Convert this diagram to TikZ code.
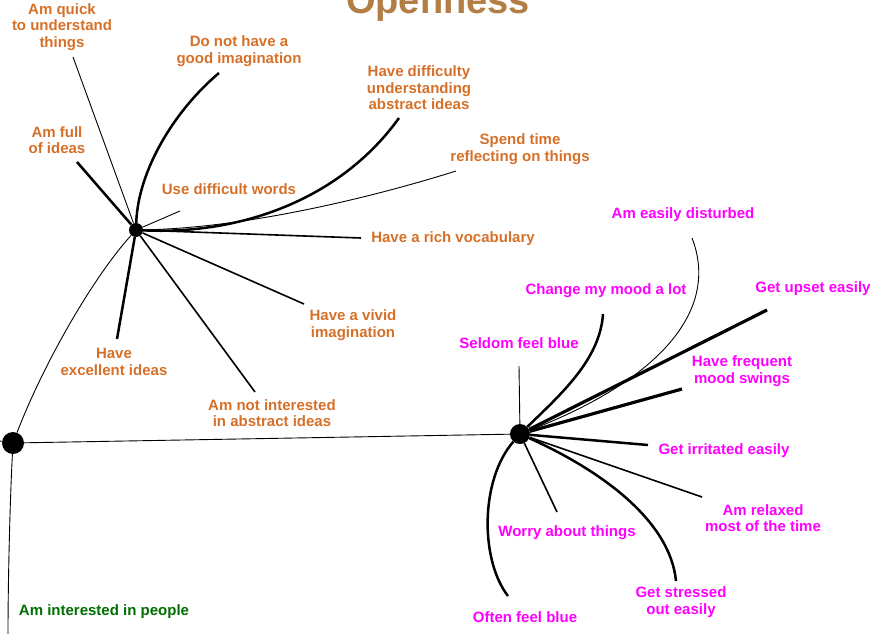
\documentclass[tikz,border=0pt]{standalone}
\usepackage{fontspec}
\setmainfont{Liberation Sans}
\usepackage{xcolor}
\definecolor{opnorange}{RGB}{214,112,40}
\definecolor{titlebrown}{RGB}{178,126,70}
\definecolor{neumagenta}{RGB}{255,0,255}
\definecolor{extgreen}{RGB}{0,110,0}
\newcommand{\hub}[2]{ node[circle, fill=black, inner sep=0pt, minimum size=#2, name={#1}] {}}
\tikzset{opn/.style={text=opnorange, font=\bfseries\fontsize{15}{16.5}\selectfont, align=center, inner sep=0pt}}
\tikzset{neu/.style={text=neumagenta, font=\bfseries\fontsize{15}{16.5}\selectfont, align=center, inner sep=0pt}}
\tikzset{thinbr/.style={line width=.9pt}}
\tikzset{medbr/.style={line width=1.6pt}}
\tikzset{thickbr/.style={line width=2.5pt}}
\tikzset{heavybr/.style={line width=3.2pt}}

\begin{document}
\begin{tikzpicture}[x=1pt, y=-1pt]
  \useasboundingbox (0,0) rectangle (885,634);
  \clip (0,0) rectangle (885,634);

  \draw [] (13, 443) \hub{root}{22pt};
  \draw [] (136, 230) \hub{opn}{14pt};
  \draw [] (520, 434) \hub{neu}{20pt};

  \node [anchor=base, text=titlebrown, font=\bfseries\fontsize{38}{40}\selectfont] (title) at (438,14) {Openness};

  % openness items
  \node [opn] (quick) at (62, 27) {Am quick\\to understand\\things};
  \node [opn] (noimag) at (239, 51) {Do not have a\\good imagination};
  \node [opn] (full) at (57, 140) {Am full\\of ideas};
  \node [opn] (diffwords) at (229, 189) {Use difficult words};
  \node [opn] (abstract) at (419, 88) {Have difficulty\\understanding\\abstract ideas};
  \node [opn] (reflect) at (520, 149) {Spend time\\reflecting on things};
  \node [opn] (vocab) at (453, 239) {Have a rich vocabulary};
  \node [opn] (vivid) at (353, 325) {Have a vivid\\imagination};
  \node [opn] (notint) at (272, 413) {Am not interested\\in abstract ideas};
  \node [opn] (excel) at (114, 362) {Have\\excellent ideas};

  % neuroticism items
  \node [neu] (seldom) at (519, 343) {Seldom feel blue};
  \node [neu] (mood) at (606, 291) {Change my mood a lot};
  \node [neu] (disturb) at (683, 215) {Am easily disturbed};
  \node [neu] (upset) at (813, 289) {Get upset easily};
  \node [neu] (swings) at (742, 371) {Have frequent\\mood swings};
  \node [neu] (irrit) at (724, 451) {Get irritated easily};
  \node [neu] (relax) at (763, 518) {Am relaxed\\most of the time};
  \node [neu] (worry) at (567, 533) {Worry about things};
  \node [neu] (stress) at (681, 602) {Get stressed\\out easily};
  \node [neu] (often) at (525, 617) {Often feel blue};

  \node [text=extgreen, font=\bfseries\fontsize{15}{16.5}\selectfont, inner sep=0pt] (people) at (104, 612) {Am interested in people};

  % line ends next to the labels
  \coordinate (quickend) at (73, 57);
  \coordinate (noimagend) at (219, 73);
  \coordinate (fullend) at (77, 162);
  \coordinate (diffend) at (180, 211);
  \coordinate (abstractend) at (399, 118);
  \coordinate (reflectend) at (456, 171);
  \coordinate (vocabend) at (361, 238);
  \coordinate (vividend) at (304, 304);
  \coordinate (notintend) at (255, 392);
  \coordinate (excelend) at (117, 339);

  \coordinate (seldomend) at (519, 366);
  \coordinate (moodend) at (603, 314);
  \coordinate (disturbend) at (692, 238);
  \coordinate (upsetend) at (767, 310);
  \coordinate (swingsend) at (682, 389);
  \coordinate (irritend) at (648, 445);
  \coordinate (relaxend) at (702, 497);
  \coordinate (worryend) at (557, 512);
  \coordinate (stressend) at (676, 581);
  \coordinate (oftenend) at (508, 596);

  \coordinate (peopleend) at (8, 634);
  \coordinate (leftstub) at (0, 441);

  % trunk
  \draw[thinbr] (root) .. controls (45,360) and (95,275) .. (opn);
  \draw[thinbr] (root) -- (neu);
  \draw[thinbr] (root) .. controls (10,500) and (8,580) .. (peopleend);
  \draw[thinbr] (root) -- (leftstub);

  \draw[thinbr] (opn) -- (quickend);
  \draw[thickbr] (opn) .. controls (138,170) and (175,110) .. (noimagend);
  \draw[thickbr] (opn) -- (fullend);
  \draw[thinbr] (opn) -- (diffend);
  \draw[thickbr] (opn) .. controls (240,235) and (340,200) .. (abstractend);
  \draw[thinbr] (opn) .. controls (250,228) and (380,195) .. (reflectend);
  \draw[medbr] (opn) -- (vocabend);
  \draw[medbr] (opn) -- (vividend);
  \draw[medbr] (opn) -- (notintend);
  \draw[thickbr] (opn) -- (excelend);

  \draw[thinbr] (neu) -- (seldomend);
  \draw[thickbr] (neu) .. controls (560,395) and (600,360) .. (moodend);
  \draw[thinbr] (neu) .. controls (660,380) and (720,310) .. (disturbend);
  \draw[heavybr] (neu) -- (upsetend);
  \draw[heavybr] (neu) -- (swingsend);
  \draw[thickbr] (neu) -- (irritend);
  \draw[medbr] (neu) -- (relaxend);
  \draw[thickbr] (neu) .. controls (600,470) and (670,520) .. (stressend);
  \draw[medbr] (neu) -- (worryend);
  \draw[thickbr] (neu) .. controls (480,480) and (480,560) .. (oftenend);

\end{tikzpicture}
\end{document}
